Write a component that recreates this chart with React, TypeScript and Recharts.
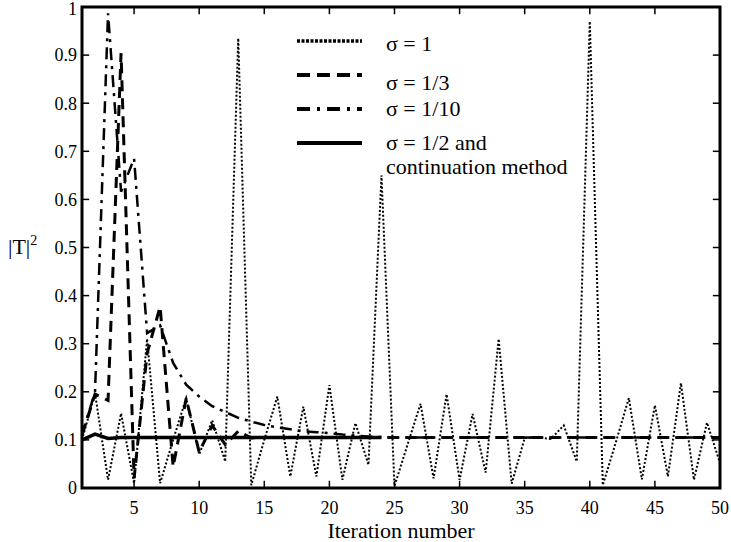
import { LineChart, Line, XAxis, YAxis, ReferenceArea, ReferenceLine } from 'recharts'

const SERIF = 'Liberation Serif, Times New Roman, serif'

// iteration numbers 1..50
const iterations = Array.from({ length: 50 }, (_, i) => i + 1)

// sigma = 1 (dotted)
const sigma1 = [
  0.1, 0.197, 0.017, 0.155, 0.01, 0.31, 0.01, 0.1, 0.187, 0.07,
  0.141, 0.055, 0.935, 0.006, 0.1, 0.19, 0.024, 0.169, 0.024, 0.214,
  0.017, 0.135, 0.048, 0.65, 0.004, 0.09, 0.175, 0.02, 0.195, 0.017,
  0.154, 0.032, 0.31, 0.009, 0.104, 0.105, 0.102, 0.13, 0.055, 0.97,
  0.006, 0.095, 0.187, 0.018, 0.172, 0.024, 0.218, 0.017, 0.136, 0.052,
]

// sigma = 1/3 (dashed)
const sigma3 = [
  0.11, 0.195, 0.182, 0.904, 0.02, 0.28, 0.377, 0.044, 0.186, 0.075,
  0.13, 0.09, 0.118, 0.104, 0.105, 0.105, 0.105, 0.105, 0.105, 0.105,
  0.105, 0.105, 0.105, 0.105, 0.105, 0.105, 0.105, 0.105, 0.105, 0.105,
  0.105, 0.105, 0.105, 0.105, 0.105, 0.105, 0.105, 0.105, 0.105, 0.105,
  0.105, 0.105, 0.105, 0.105, 0.105, 0.105, 0.105, 0.105, 0.105, 0.105,
]

// sigma = 1/10 (dash-dot)
const sigma10 = [
  0.11, 0.2, 0.987, 0.616, 0.685, 0.322, 0.338, 0.26, 0.215, 0.19,
  0.17, 0.158, 0.146, 0.138, 0.131, 0.126, 0.122, 0.118, 0.116, 0.114,
  0.111, 0.109, 0.107, 0.106, 0.105, 0.105, 0.105, 0.105, 0.105, 0.105,
  0.105, 0.105, 0.105, 0.105, 0.105, 0.105, 0.105, 0.105, 0.105, 0.105,
  0.105, 0.105, 0.105, 0.105, 0.105, 0.105, 0.105, 0.105, 0.105, 0.105,
]

// sigma = 1/2 and continuation method (solid), stops at iteration 24
const sigma2 = [
  0.1, 0.112, 0.103, 0.105, 0.105, 0.105, 0.105, 0.105, 0.105, 0.105,
  0.105, 0.105, 0.105, 0.105, 0.105, 0.105, 0.105, 0.105, 0.105, 0.105,
  0.105, 0.105, 0.105, 0.105,
]

const xTicks = [5, 10, 15, 20, 25, 30, 35, 40, 45, 50]
const yTicks = [0, 0.1, 0.2, 0.3, 0.4, 0.5, 0.6, 0.7, 0.8, 0.9, 1]

const X_DOMAIN: [number, number] = [1, 50]
const Y_DOMAIN: [number, number] = [0, 1]
// inward tick length, in data units (about 7px)
const X_TICK_LEN = 0.55
const Y_TICK_LEN = 0.015

const data = iterations.map((x, i) => ({
  x,
  s1: sigma1[i],
  s3: sigma3[i],
  s10: sigma10[i],
  s2: i < sigma2.length ? sigma2[i] : null,
}))

function BottomLabel({ x, y, payload }: any) {
  return (
    <text x={x} y={y + 20} textAnchor="middle" dy="0.35em" fontSize={18} fontFamily={SERIF} fill="#000">
      {payload.value}
    </text>
  )
}

function LeftLabel({ x, y, payload }: any) {
  return (
    <text x={x - 5} y={y} textAnchor="end" dy="0.35em" fontSize={18} fontFamily={SERIF} fill="#000">
      {String(payload.value)}
    </text>
  )
}

function ChartLegend() {
  const rows = [
    { dash: '3 1.5', w: 3.5, y: 41, label: 'σ = 1', ty: 43 },
    { dash: '13 7', w: 4, y: 75, label: 'σ = 1/3', ty: 82 },
    { dash: '13 7 3 7', w: 4, y: 109, label: 'σ = 1/10', ty: 108 },
    { dash: undefined, w: 4, y: 143, label: 'σ = 1/2 and', ty: 142 },
  ]
  return (
    <svg width={731} height={542} style={{ position: 'absolute', left: 0, top: 0, pointerEvents: 'none' }}>
      {rows.map((r) => (
        <g key={r.label}>
          <line x1={297} x2={362} y1={r.y} y2={r.y} stroke="#000" strokeWidth={r.w} strokeDasharray={r.dash} />
          <text x={386} y={r.ty} dy="0.35em" fontSize={22} fontFamily={SERIF} fill="#000">
            {r.label}
          </text>
        </g>
      ))}
      <text x={386} y={166} dy="0.35em" fontSize={22} fontFamily={SERIF} fill="#000">
        continuation method
      </text>
      <text x={401} y={530} textAnchor="middle" dy="0.35em" fontSize={22} fontFamily={SERIF} fill="#000">
        Iteration number
      </text>
      <text x={8} y={246} dy="0.35em" fontSize={22} fontFamily={SERIF} fill="#000">
        |T|<tspan dy={-9} fontSize={14}>2</tspan>
      </text>
    </svg>
  )
}

export default function App() {
  return (
    <div style={{ position: 'absolute', left: 0, top: 0, width: 731, height: 542, background: '#fff' }}>
      <LineChart width={731} height={542} data={data} margin={{ top: 7, right: 11, bottom: 24, left: 0 }}>
        <XAxis
          dataKey="x"
          type="number"
          domain={X_DOMAIN}
          ticks={xTicks}
          allowDataOverflow
          axisLine={false}
          tickLine={false}
          tickSize={0}
          tickMargin={0}
          tick={<BottomLabel />}
          height={30}
        />
        <YAxis
          type="number"
          domain={Y_DOMAIN}
          ticks={yTicks}
          axisLine={false}
          tickLine={false}
          tickSize={0}
          tickMargin={0}
          tick={<LeftLabel />}
          width={82}
        />
        {xTicks.map((t) => (
          <ReferenceLine
            key={`xb${t}`}
            segment={[{ x: t, y: 0 }, { x: t, y: Y_TICK_LEN }]}
            stroke="#000"
            strokeWidth={1.5}
            ifOverflow="visible"
          />
        ))}
        {xTicks.map((t) => (
          <ReferenceLine
            key={`xt${t}`}
            segment={[{ x: t, y: 1 }, { x: t, y: 1 - Y_TICK_LEN }]}
            stroke="#000"
            strokeWidth={1.5}
            ifOverflow="visible"
          />
        ))}
        {yTicks.map((t) => (
          <ReferenceLine
            key={`yl${t}`}
            segment={[{ x: 1, y: t }, { x: 1 + X_TICK_LEN, y: t }]}
            stroke="#000"
            strokeWidth={1.5}
            ifOverflow="visible"
          />
        ))}
        {yTicks.map((t) => (
          <ReferenceLine
            key={`yr${t}`}
            segment={[{ x: 50, y: t }, { x: 50 - X_TICK_LEN, y: t }]}
            stroke="#000"
            strokeWidth={1.5}
            ifOverflow="visible"
          />
        ))}
        <Line
          dataKey="s1"
          name="σ = 1"
          stroke="#000"
          strokeWidth={2}
          strokeDasharray="2 2"
          dot={false}
          activeDot={false}
          isAnimationActive={false}
        />
        <Line
          dataKey="s10"
          name="σ = 1/10"
          stroke="#000"
          strokeWidth={2.5}
          strokeDasharray="12 6 3 6"
          dot={false}
          activeDot={false}
          isAnimationActive={false}
        />
        <Line
          dataKey="s3"
          name="σ = 1/3"
          stroke="#000"
          strokeWidth={3}
          strokeDasharray="11 7"
          dot={false}
          activeDot={false}
          isAnimationActive={false}
        />
        <Line
          dataKey="s2"
          name="σ = 1/2 and continuation method"
          stroke="#000"
          strokeWidth={3.5}
          dot={false}
          activeDot={false}
          isAnimationActive={false}
        />
        <ReferenceArea
          x1={X_DOMAIN[0]}
          x2={X_DOMAIN[1]}
          y1={Y_DOMAIN[0]}
          y2={Y_DOMAIN[1]}
          fill="none"
          stroke="#000"
          strokeWidth={3}
          ifOverflow="visible"
        />
      </LineChart>
      <ChartLegend />
    </div>
  )
}
